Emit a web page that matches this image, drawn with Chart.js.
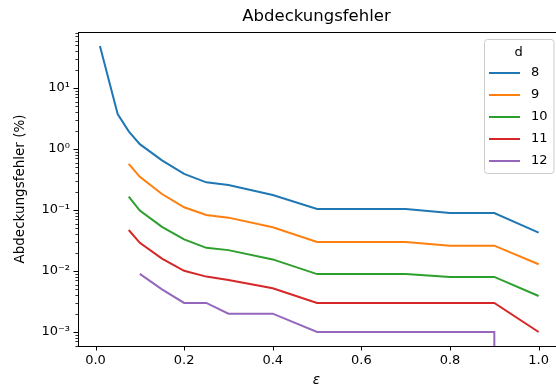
<!DOCTYPE html>
<html>
<head>
<meta charset="utf-8">
<script src="https://cdn.jsdelivr.net/npm/chart.js@4"></script>
<style>
  html, body { margin: 0; padding: 0; background: #fff; }
  #wrap { width: 556px; height: 389px; }
</style>
</head>
<body>
<div id="wrap"><canvas id="chart" width="556" height="389"></canvas></div>
<script>
// epsilon values on the x axis
const eps = [0.01, 0.05, 0.075, 0.1, 0.15, 0.2, 0.25, 0.3, 0.4, 0.5, 0.6, 0.7, 0.8, 0.9, 1.0];

// Abdeckungsfehler (%) per d, null = no measurement
const d8  = [49, 3.75, 1.95, 1.2, 0.65, 0.39, 0.284, 0.257, 0.176, 0.104, 0.104, 0.104, 0.089, 0.089, 0.0425];
const d9  = [null, null, 0.57, 0.35, 0.183, 0.111, 0.083, 0.075, 0.052, 0.030, 0.030, 0.030, 0.026, 0.026, 0.0129];
const d10 = [null, null, 0.165, 0.098, 0.053, 0.033, 0.024, 0.022, 0.0155, 0.0089, 0.0089, 0.0089, 0.0080, 0.0080, 0.0039];
const d11 = [null, null, 0.047, 0.029, 0.016, 0.0101, 0.0081, 0.0071, 0.0052, 0.003, 0.003, 0.003, 0.003, 0.003, 0.001];
const d12 = [null, null, null, 0.009, 0.005, 0.003, 0.003, 0.002, 0.002, 0.001, 0.001, 0.001, 0.001, 0.001, 0];

const dLabels = ['8', '9', '10', '11', '12'];
const colors = ['#1f77b4', '#ff7f0e', '#2ca02c', '#d62728', '#9467bd'];

const xTicks = [0, 0.2, 0.4, 0.6, 0.8, 1.0];
const xTickLabels = ['0.0', '0.2', '0.4', '0.6', '0.8', '1.0'];
const yTicks = [1e-3, 1e-2, 1e-1, 1, 10];
const yTickLabels = ['10\u207B\u00B3', '10\u207B\u00B2', '10\u207B\u00B9', '10\u2070', '10\u00B9'];

const FONT = 'DejaVu Sans';

// like matplotlib, a zero on a log axis is clipped far below the plot
function toPoints(series) {
    const pts = [];
    series.forEach(function(v, i) {
        if (v === null) return;
        pts.push({ x: eps[i], y: v === 0 ? 1e-300 : v });
    });
    return pts;
}

const mplFrame = {
    id: 'mplFrame',
    afterDatasetsDraw(chart) {
        const ctx = chart.ctx;
        const a = chart.chartArea;
        const xs = chart.scales.x;
        const ys = chart.scales.y;
        ctx.save();
        ctx.strokeStyle = '#000';
        ctx.lineWidth = 1;

        // x major ticks
        xs.ticks.forEach(function(t) {
            const px = Math.round(xs.getPixelForValue(t.value)) + 0.5;
            ctx.beginPath();
            ctx.moveTo(px, a.bottom);
            ctx.lineTo(px, a.bottom + 4.5);
            ctx.stroke();
        });
        // y major ticks
        ys.ticks.forEach(function(t) {
            const py = Math.round(ys.getPixelForValue(t.value)) + 0.5;
            ctx.beginPath();
            ctx.moveTo(a.left - 4.5, py);
            ctx.lineTo(a.left, py);
            ctx.stroke();
        });
        // y minor ticks
        ctx.lineWidth = 0.8;
        for (let e = -4; e <= 1; e++) {
            for (let m = 2; m <= 9; m++) {
                const v = m * Math.pow(10, e);
                if (v < ys.min || v > ys.max) continue;
                const py = Math.round(ys.getPixelForValue(v)) + 0.5;
                ctx.beginPath();
                ctx.moveTo(a.left - 2.6, py);
                ctx.lineTo(a.left, py);
                ctx.stroke();
            }
        }

        // frame (right spine falls just outside the canvas)
        ctx.lineWidth = 1;
        ctx.strokeRect(Math.round(a.left) + 0.5, Math.round(a.top) + 0.5,
            Math.round(a.right - a.left) + 6, Math.round(a.bottom - a.top));

        // legend in upper right
        const bx = 484, by = 39, bw = 69.5, bh = 134;
        ctx.beginPath();
        if (ctx.roundRect) ctx.roundRect(bx + 0.5, by + 0.5, bw, bh, 3);
        else ctx.rect(bx + 0.5, by + 0.5, bw, bh);
        ctx.fillStyle = 'rgba(255,255,255,0.8)';
        ctx.fill();
        ctx.strokeStyle = '#cccccc';
        ctx.stroke();

        ctx.font = '13px "' + FONT + '"';
        ctx.fillStyle = '#000';
        ctx.textBaseline = 'middle';
        ctx.textAlign = 'center';
        ctx.fillText('d', bx + bw / 2, by + 14);
        ctx.textAlign = 'left';
        chart.data.datasets.forEach(function(ds, i) {
            const yy = by + 34 + i * 22;
            ctx.strokeStyle = ds.borderColor;
            ctx.lineWidth = 2;
            ctx.beginPath();
            ctx.moveTo(bx + 5, yy);
            ctx.lineTo(bx + 36, yy);
            ctx.stroke();
            ctx.fillText(ds.label, bx + 47, yy);
        });
        ctx.restore();
    }
};

const allSeries = [d8, d9, d10, d11, d12];

new Chart(document.getElementById('chart').getContext('2d'), {
    type: 'line',
    data: {
        datasets: allSeries.map(function(s, i) {
            return {
                label: dLabels[i],
                data: toPoints(s),
                borderColor: colors[i],
                backgroundColor: colors[i],
                borderWidth: 2,
                pointRadius: 0,
                tension: 0,
                fill: false
            };
        })
    },
    options: {
        responsive: false,
        animation: false,
        devicePixelRatio: 1,
        layout: { padding: 0 },
        plugins: {
            legend: { display: false },
            tooltip: { enabled: false },
            title: {
                display: true,
                fullSize: false,
                text: 'Abdeckungsfehler',
                color: '#000',
                font: { family: FONT, size: 16.5, weight: 'normal' },
                padding: { top: 7, bottom: 5.2 }
            }
        },
        scales: {
            x: {
                type: 'linear',
                min: -0.0395,
                max: 1.037,
                grid: { display: false, drawTicks: false },
                border: { display: false },
                afterBuildTicks: function(s) { s.ticks = xTicks.map(v => ({ value: v })); },
                afterFit: function(s) { s.height = 43; },
                ticks: {
                    autoSkip: false,
                    maxRotation: 0,
                    padding: 7,
                    color: '#000',
                    font: { family: FONT, size: 13 },
                    callback: function(v, i) { return xTickLabels[i]; }
                },
                title: {
                    display: true,
                    text: 'ε',
                    color: '#000',
                    font: { family: FONT, size: 13.5, style: 'italic' },
                    padding: { top: 0, bottom: 0 }
                }
            },
            y: {
                type: 'logarithmic',
                min: 5.9e-4,
                max: 82.8,
                grid: { display: false, drawTicks: false },
                border: { display: false },
                afterBuildTicks: function(s) { s.ticks = yTicks.map(v => ({ value: v, major: true })); },
                afterFit: function(s) { s.width = 78; },
                ticks: {
                    autoSkip: false,
                    padding: 8,
                    color: '#000',
                    font: { family: FONT, size: 13 },
                    callback: function(v, i) { return yTickLabels[i]; }
                },
                title: {
                    display: true,
                    text: 'Abdeckungsfehler (%)',
                    color: '#000',
                    font: { family: FONT, size: 13.5 },
                    padding: { top: 12, bottom: 0 }
                }
            }
        }
    },
    plugins: [mplFrame]
});
</script>
</body>
</html>
